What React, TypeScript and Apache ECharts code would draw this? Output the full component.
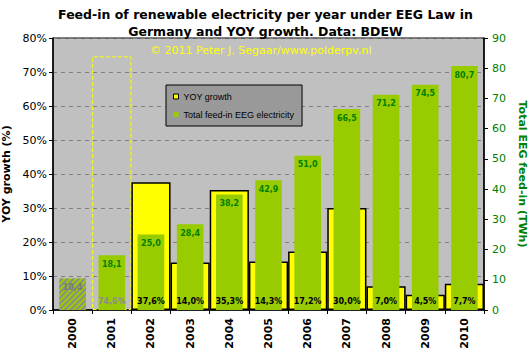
import React, { useEffect, useRef } from "react";
import * as echarts from "echarts";

const years = ["2000", "2001", "2002", "2003", "2004", "2005", "2006", "2007", "2008", "2009", "2010"];
const yoyGrowth: (number | null)[] = [null, 74.6, 37.6, 14.0, 35.3, 14.3, 17.2, 30.0, 7.0, 4.5, 7.7];
const feedIn = [10.4, 18.1, 25.0, 28.4, 38.2, 42.9, 51.0, 66.5, 71.2, 74.5, 80.7];

const fmt = (v: number) => v.toFixed(1).replace(".", ",");

export default function App() {
  const ref = useRef<HTMLDivElement>(null);
  useEffect(() => {
    if (!ref.current) return;
    const chart = echarts.init(ref.current, null, { renderer: "svg" });
    const yoyData = yoyGrowth.map((v, i) => {
      if (v === null) return "-";
      if (i === 1) {
        return {
          value: v,
          itemStyle: { color: "rgba(0,0,0,0)", borderColor: "#FFFF00", borderType: "dashed", borderWidth: 1 },
        };
      }
      return v;
    });
    const yoyLabelData = yoyGrowth.map((v, i) => {
      if (v === null) return "-";
      if (i === 1) return { value: v, label: { color: "#8C8C8C" } };
      return v;
    });
    const feedData = feedIn.map((v, i) => {
      if (i === 0) {
        return {
          value: v,
          itemStyle: {
            color: "#99CC00",
            decal: {
              symbol: "rect",
              symbolSize: 1,
              dashArrayX: [1, 0],
              dashArrayY: [1.5, 1.5],
              rotation: -Math.PI / 4,
              color: "#8C8C8C",
            },
          },
          label: { color: "#7A7A7A" },
        };
      }
      return v;
    });
    chart.setOption({
      animation: false,
      backgroundColor: "#FFFFFF",
      title: {
        text: "Feed-in of renewable electricity per year under EEG Law in\nGermany and YOY growth. Data: BDEW",
        left: "center",
        top: 1,
        textStyle: { fontFamily: "DejaVu Sans", fontWeight: "bold", fontSize: 12.5, color: "#000", lineHeight: 17 },
      },
      grid: {
        left: 53,
        right: 47,
        top: 38,
        bottom: 50,
        outerBoundsMode: "none",
        containLabel: false,
        show: true,
        backgroundColor: "#C0C0C0",
        borderColor: "#000",
        borderWidth: 1,
      },
      legend: {
        orient: "vertical",
        left: 166,
        top: 85,
        padding: [7, 8, 7, 7],
        itemGap: 9,
        itemWidth: 5,
        itemHeight: 5,
        icon: "rect",
        backgroundColor: "#999999",
        borderColor: "#000",
        borderWidth: 1,
        textStyle: { fontFamily: "Liberation Sans", fontSize: 9, color: "#000" },
        data: [
          { name: "YOY growth", itemStyle: { color: "#FFFF00", borderColor: "#000", borderWidth: 1, borderType: "solid" } },
          { name: "Total feed-in EEG electricity", itemStyle: { color: "#99CC00", borderWidth: 0, decal: "none" } },
        ],
      },
      graphic: [
        {
          type: "text",
          left: 150,
          top: 45,
          style: {
            text: "© 2011 Peter J. Segaar/www.polderpv.nl",
            fill: "#FFFF00",
            font: "11px 'DejaVu Sans'",
          },
          z: 10,
        },
      ],
      xAxis: [
        {
          type: "category",
          data: years,
          position: "bottom",
          axisLine: { lineStyle: { color: "#000", width: 1.5 } },
          axisTick: { show: true, length: 4, lineStyle: { color: "#000" } },
          axisLabel: {
            rotate: 90,
            margin: 8,
            fontFamily: "DejaVu Sans",
            fontWeight: "bold",
            fontSize: 11,
            color: "#000",
          },
        },
        { type: "category", data: years, show: false },
      ],
      yAxis: [
        {
          type: "value",
          min: 0,
          max: 80,
          interval: 10,
          name: "YOY growth (%)",
          nameLocation: "middle",
          nameRotate: 90,
          nameGap: 35,
          nameTextStyle: { fontFamily: "DejaVu Sans", fontWeight: "bold", fontSize: 11, color: "#000" },
          axisLine: { show: true, lineStyle: { color: "#000", width: 1.5 } },
          axisTick: { show: true, length: 4, lineStyle: { color: "#000" } },
          axisLabel: { formatter: "{value}%", fontFamily: "DejaVu Sans", fontSize: 11, color: "#000", margin: 6 },
          splitLine: { show: true, lineStyle: { color: "#808080", type: [4, 4], width: 1 } },
        },
        {
          type: "value",
          min: 0,
          max: 90,
          interval: 10,
          position: "right",
          name: "Total EEG feed-in (TWh)",
          nameLocation: "middle",
          nameRotate: -90,
          nameGap: 23,
          nameTextStyle: { fontFamily: "DejaVu Sans", fontWeight: "bold", fontSize: 11, color: "#008000" },
          axisLine: { show: true, lineStyle: { color: "#000", width: 1.5 } },
          axisTick: { show: true, length: 4, lineStyle: { color: "#000" } },
          axisLabel: { fontFamily: "DejaVu Sans", fontSize: 11, color: "#008000", margin: 8 },
          splitLine: { show: false },
        },
      ],
      series: [
        {
          name: "YOY growth",
          type: "bar",
          xAxisIndex: 0,
          yAxisIndex: 0,
          barWidth: "100%",
          barGap: "-100%",
          data: yoyData,
          itemStyle: { color: "#FFFF00", borderColor: "#000", borderWidth: 1.5 },
          z: 2,
        },
        {
          name: "Total feed-in EEG electricity",
          type: "bar",
          xAxisIndex: 1,
          yAxisIndex: 1,
          barWidth: "68%",
          data: feedData,
          itemStyle: { color: "#99CC00" },
          label: {
            show: true,
            position: "insideTop",
            distance: 5,
            formatter: (p: any) => fmt(p.value),
            fontFamily: "DejaVu Sans",
            fontWeight: "bold",
            fontSize: 8,
            color: "#008000",
          },
          z: 3,
        },
        {
          name: "YOY labels",
          type: "bar",
          xAxisIndex: 0,
          yAxisIndex: 0,
          barWidth: "100%",
          barGap: "-100%",
          data: yoyLabelData,
          itemStyle: { color: "rgba(0,0,0,0)", borderWidth: 0 },
          emphasis: { disabled: true },
          tooltip: { show: false },
          label: {
            show: true,
            position: "insideBottom",
            distance: 5,
            formatter: (p: any) => fmt(p.value) + "%",
            fontFamily: "DejaVu Sans",
            fontWeight: "bold",
            fontSize: 8,
            color: "#000",
          },
          z: 4,
        },
      ],
    });
    return () => chart.dispose();
  }, []);
  return (
    <div
      ref={ref}
      style={{ position: "fixed", left: 0, top: 0, width: 531, height: 360 }}
    />
  );
}
